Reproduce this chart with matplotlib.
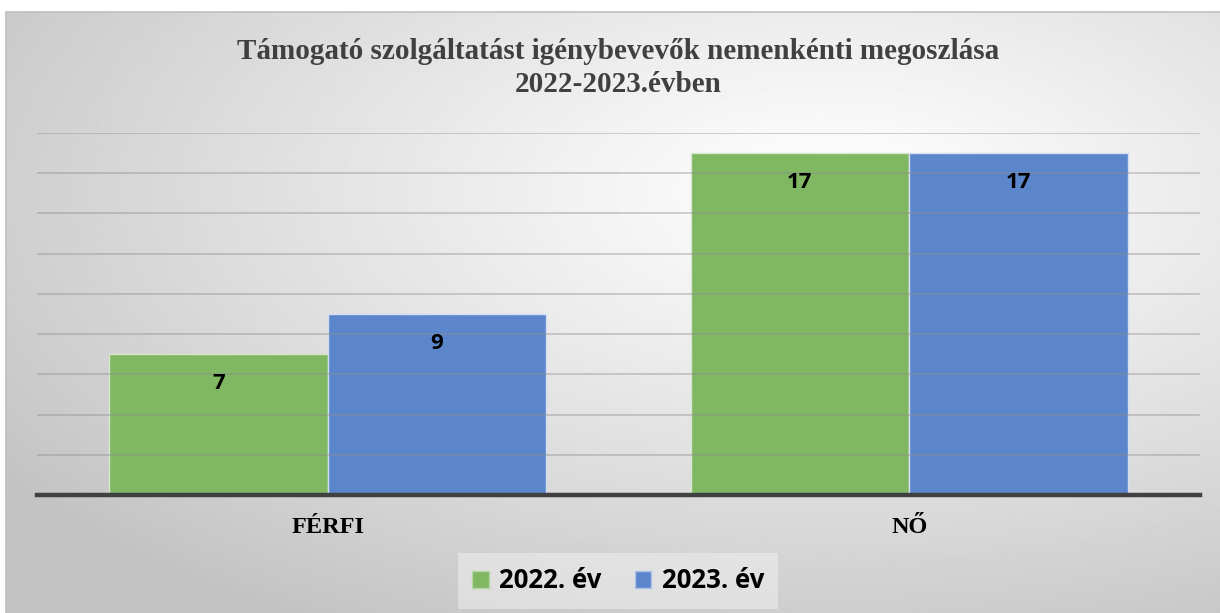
import numpy as np
import matplotlib
matplotlib.use("Agg")
import matplotlib.pyplot as plt
from matplotlib.patches import Patch

categories = ["FÉRFI", "NŐ"]
series_names = ["2022. év", "2023. év"]
values_2022 = [7, 17]
values_2023 = [9, 17]

title = "Támogató szolgáltatást igénybevevők nemenkénti megoszlása\n2022-2023.évben"

GREEN = "#80b763"
BLUE = "#5c86cc"

fig = plt.figure(figsize=(12.2, 6.13), dpi=100)
fig.patch.set_facecolor("white")

# gradient background of the chart area
bg = fig.add_axes([6 / 1220, 0, 1 - 6 / 1220, 1 - 12 / 613], zorder=-10)
yy, xx = np.mgrid[0:1:300j, 0:1:600j]
dist = np.sqrt(((xx - 0.68) / 0.85) ** 2 + ((yy - 0.3) / 0.85) ** 2)
shade = 1.0 - 0.24 * np.clip(dist, 0, 1) ** 1.1
bg.imshow(shade, cmap="gray", vmin=0, vmax=1, aspect="auto",
          extent=[0, 1, 0, 1], origin="upper", interpolation="bilinear")
bg.set_axis_off()
fig.add_artist(plt.Line2D([6 / 1220, 6 / 1220], [0, 1 - 12 / 613],
                          color="#bfbfbf", lw=1.2))
fig.add_artist(plt.Line2D([6 / 1220, 1], [1 - 12 / 613, 1 - 12 / 613],
                          color="#bfbfbf", lw=1.2))

ax = fig.add_axes([37 / 1220, 1 - 495 / 613, (1200 - 37) / 1220, (495 - 133) / 613])
ax.set_facecolor("none")

x = np.arange(len(categories))
w = 0.376
b1 = ax.bar(x - w / 2, values_2022, w, color=GREEN, edgecolor="#d6e8cc", linewidth=1.0, zorder=1)
b2 = ax.bar(x + w / 2, values_2023, w, color=BLUE, edgecolor="#d3def2", linewidth=1.0, zorder=1)

for bars in (b1, b2):
    for rect in bars:
        h = rect.get_height()
        ax.annotate(f"{h:g}", (rect.get_x() + rect.get_width() / 2, h),
                    xytext=(0, -21), textcoords="offset points",
                    ha="center", va="center", fontsize=16, fontweight="bold",
                    family=["Open Sans", "DejaVu Sans"], color="black", zorder=5)

ax.set_xlim(-0.5, 1.5)
ax.set_ylim(0, 18)
ax.set_yticks(np.arange(2, 19, 2))
ax.yaxis.grid(True, color="#8c8c8c", alpha=0.42, linewidth=1.3)
ax.set_axisbelow(False)
ax.tick_params(axis="y", length=0, labelleft=False)
ax.tick_params(axis="x", length=0, pad=16)
ax.set_xticks(x)
ax.set_xticklabels(categories, fontsize=17.5, fontweight="bold",
                   family="Liberation Serif", color="black")
for s in ["left", "right", "top"]:
    ax.spines[s].set_visible(False)
ax.spines["bottom"].set_color("#404040")
ax.spines["bottom"].set_linewidth(3.2)
ax.spines["bottom"].set_zorder(4)

fig.text(618 / 1220, 1 - 68 / 613, title, ha="center", va="center",
         fontsize=21, fontweight="bold", family="Liberation Serif",
         color="#404040", linespacing=1.32)

handles = [Patch(facecolor=GREEN, edgecolor="#b5d5a3"),
           Patch(facecolor=BLUE, edgecolor="#aec2e6")]
leg = fig.legend(handles, series_names, loc="center", ncol=2,
                 bbox_to_anchor=(618 / 1220, 1 - 581 / 613),
                 prop={"family": ["Open Sans", "DejaVu Sans"], "weight": "bold", "size": 18.5},
                 frameon=True, fancybox=False, handlelength=0.65, handleheight=0.65,
                 handletextpad=0.4, columnspacing=1.3, borderpad=0.55)
leg.get_frame().set_facecolor("#f6f6f6")
leg.get_frame().set_edgecolor("none")
leg.get_frame().set_alpha(0.45)

fig.savefig("out.png", dpi=100)
